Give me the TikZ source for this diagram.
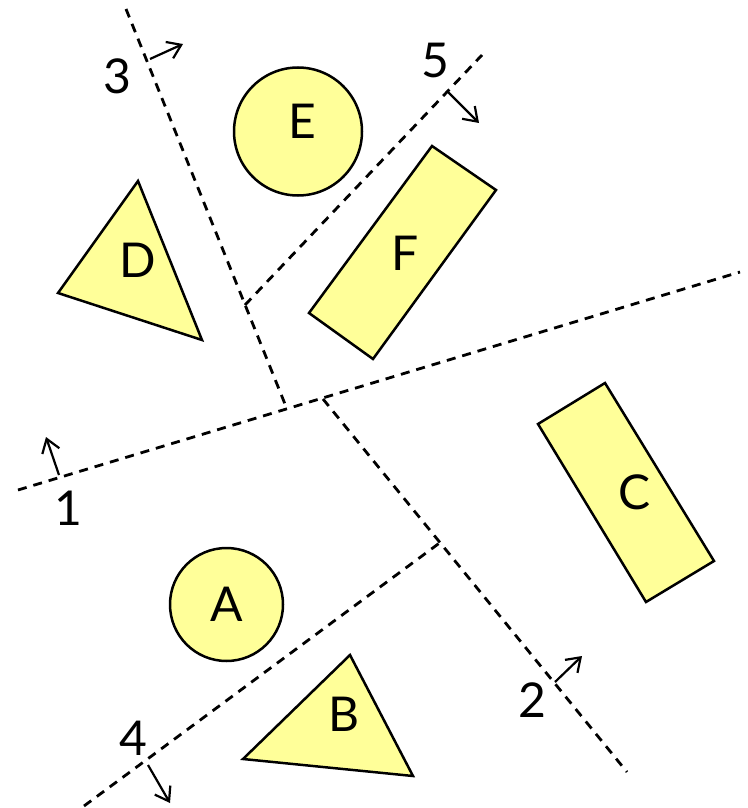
\documentclass[tikz,border=0pt]{standalone}
\usepackage{fontspec}
\setmainfont{Lato}
\usetikzlibrary{arrows.meta,calc}
\definecolor{shapefill}{HTML}{FFFF99}
\begin{document}
\begin{tikzpicture}[x=1pt,y=-1pt,
  body/.style={draw=black, fill=shapefill, line width=2.5pt, line join=miter},
  cutline/.style={line width=2.8pt, dash pattern=on 9pt off 7pt},
  normal/.style={line width=2.2pt, -{Straight Barb[length=13pt,width=18pt,line width=2.2pt]}},
  lab/.style={font=\fontsize{48}{48}\selectfont, inner sep=0pt},
]
\path[use as bounding box] (0,0) rectangle (747,808);

% shapes
\node[circle, body, minimum size=128pt, inner sep=0pt] (E) at (298,131.5) {};
\node[circle, body, minimum size=113pt, inner sep=0pt] (A) at (226.5,604.5) {};
\draw[body] (138,181) -- (58,293) -- (202,340) -- cycle;
\draw[body] (350,655) -- (243,759) -- (413,776) -- cycle;
\draw[body] (432,146) -- (496,190) -- (373,359) -- (309,313) -- cycle;
\draw[body] (538,424) -- (605,383) -- (714,561) -- (646,602) -- cycle;

\node[lab] (Et) at (302,121) {E};
\node[lab] (At) at (227,604) {A};
\node[lab] (Dt) at (138,260.5) {D};
\node[lab] (Bt) at (344,714) {B};
\node[lab] (Ft) at (405,253) {F};
\node[lab] (Ct) at (635,492) {C};

% cut lines
\coordinate (l1a) at (18,490);
\coordinate (l1b) at (740,272);
\coordinate (l3a) at (126,9);
\coordinate (p13) at (287,409);
\coordinate (p12) at (323,399);
\coordinate (l2b) at (627,772);
\coordinate (p35) at (245,305);
\coordinate (l5b) at (482,55);
\coordinate (p24) at ($(p12)!0.385!(l2b)$);
\coordinate (l4a) at (84,806);

\draw[cutline] (l1a) -- (l1b);
\draw[cutline] (l3a) -- (p13);
\draw[cutline] (p12) -- (l2b);
\draw[cutline] (p35) -- (l5b);
\draw[cutline] (l4a) -- (p24);

% normals
\coordinate (n1a) at (59,475); \coordinate (n1b) at (46,437);
\coordinate (n2a) at (555,682); \coordinate (n2b) at (582,656);
\coordinate (n3a) at (150,59); \coordinate (n3b) at (183,44);
\coordinate (n4a) at (148,765); \coordinate (n4b) at (170,803);
\coordinate (n5a) at (448,92); \coordinate (n5b) at (479,123);
\draw[normal] (n1a) -- (n1b);
\draw[normal] (n2a) -- (n2b);
\draw[normal] (n3a) -- (n3b);
\draw[normal] (n4a) -- (n4b);
\draw[normal] (n5a) -- (n5b);

\node[lab] (t1) at (68,508) {1};
\node[lab] (t2) at (532,700.5) {2};
\node[lab] (t3) at (117,76) {3};
\node[lab] (t4) at (133,738) {4};
\node[lab] (t5) at (435,60.5) {5};
\end{tikzpicture}
\end{document}
